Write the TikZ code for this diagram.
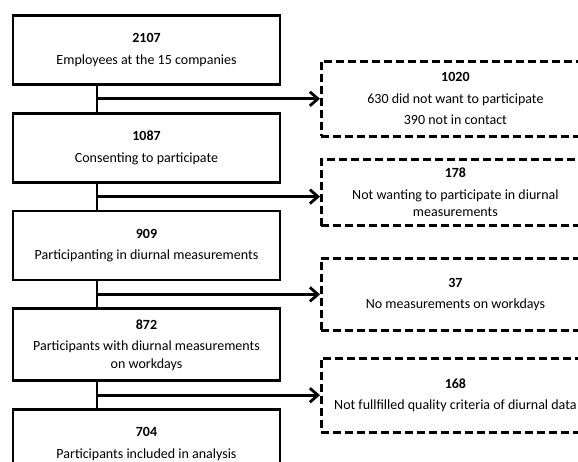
\documentclass[tikz,border=0pt]{standalone}
\usepackage{fontspec}
\setmainfont{Carlito}
\usetikzlibrary{arrows.meta,positioning,calc}

\begin{document}
\begin{tikzpicture}[
    x=1pt, y=1pt,
    node distance=26pt,
    box/.style={rectangle, draw, line width=2.8pt, minimum width=267pt,
                minimum height=69pt, inner sep=2pt, align=center,
                font=\fontsize{14}{17.5}\selectfont},
    dbox/.style={box, dash pattern=on 8pt off 4pt, minimum width=268pt},
    link/.style={line width=2.8pt},
    sarr/.style={-{Straight Barb[length=8pt,width=14pt]}, line width=2.8pt},
]
\path[use as bounding box, clip] (0,0) rectangle (578,-462);

%% ── Main flow (left column) ──────────────────────────────────────────────
\node[box, anchor=north] at (146.5,-14) (m1) {\textbf{2107}\\[4pt]Employees at the 15 companies};
\node[box, below=of m1]                 (m2) {\textbf{1087}\\[4pt]Consenting to participate};
\node[box, below=of m2]                 (m3) {\textbf{909}\\[4pt]Participanting in diurnal measurements};
\node[box, below=of m3, minimum height=72pt] (m4)
      {\textbf{872}\\[4pt]Participants with diurnal measurements\\on workdays};
\node[box, below=of m4]                 (m5) {\textbf{704}\\[4pt]Participants included in analysis};

% Branch points between the boxes
\coordinate (j1) at ($(m1.south)!.5!(m2.north)+(-49.5,0)$);
\coordinate (j2) at ($(m2.south)!.5!(m3.north)+(-49.5,0)$);
\coordinate (j3) at ($(m3.south)!.5!(m4.north)+(-49.5,0)$);
\coordinate (j4) at ($(m4.south)!.5!(m5.north)+(-49.5,0)$);

%% ── Exclusions (right column) ────────────────────────────────────────────
\node[dbox, anchor=west, minimum height=75pt] at ([xshift=223pt]j1) (d1)
      {\textbf{1020}\\[4pt]630 did not want to participate\\[4pt]390 not in contact};
\node[dbox, anchor=west, minimum height=66pt] at ([xshift=223pt,yshift=4pt]j2) (d2)
      {\textbf{178}\\[4pt]Not wanting to participate in diurnal\\measurements};
\node[dbox, anchor=west, minimum height=72pt] at ([xshift=223pt]j3) (d3)
      {\textbf{37}\\[4pt]No measurements on workdays};
\node[dbox, anchor=west, minimum height=74pt] at ([xshift=223pt]j4) (d4)
      {\textbf{168}\\[4pt]Not fullfilled quality criteria of diurnal data};

% Vertical links
\draw[link] (m1.south -| j1) -- (m2.north -| j1);
\draw[link] (m2.south -| j2) -- (m3.north -| j2);
\draw[link] (m3.south -| j3) -- (m4.north -| j3);
\draw[link] (m4.south -| j4) -- (m5.north -| j4);

% Arrows to exclusions
\draw[sarr] (j1) -- (d1.west |- j1);
\draw[sarr] (j2) -- (d2.west |- j2);
\draw[sarr] (j3) -- (d3.west |- j3);
\draw[sarr] (j4) -- (d4.west |- j4);

\end{tikzpicture}
\end{document}
